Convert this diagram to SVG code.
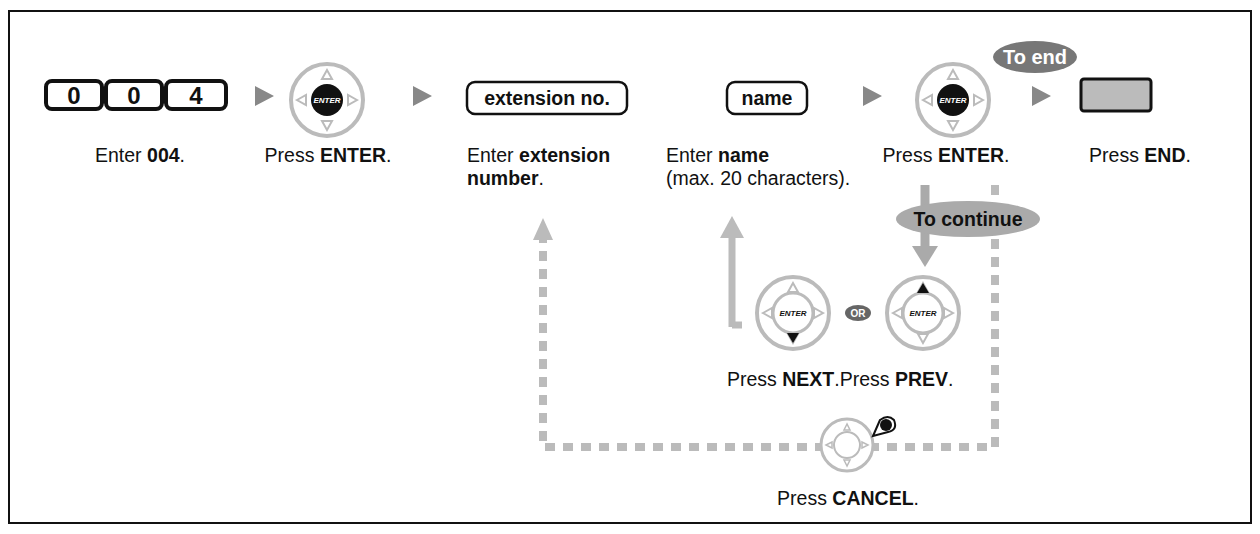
<svg xmlns="http://www.w3.org/2000/svg" width="1260" height="534" viewBox="0 0 1260 534">
<style>
text{font-family:"Liberation Sans",Arial,sans-serif;fill:#111}
.l{font-size:19.5px}
.b{font-weight:bold}
.key{fill:#fff;stroke:#111;stroke-width:4}
.kt{font-size:24px;font-weight:bold;text-anchor:middle}
.tri{fill:#888}
.ring{fill:#fff;stroke:#bbb;stroke-width:4}
.sm{fill:#fff;stroke:#bbb;stroke-width:2}
.en{font-size:8px;font-style:italic;font-weight:bold;text-anchor:middle}
.dash{fill:none;stroke:#bbb;stroke-width:8;stroke-dasharray:10 8}
</style>
<defs>
<g id="dial">
<circle r="36" class="ring"/>
<path d="M0,-30 L-5,-21 L5,-21Z M0,30 L-5,21 L5,21Z M-30,0 L-21,-5 L-21,5Z M30,0 L21,-5 L21,5Z" class="sm"/>
</g>
</defs>
<rect x="9" y="11" width="1242" height="512" fill="#fff" stroke="#111" stroke-width="2"/>
<g id="keys">
<rect x="46" y="81" width="56" height="28" rx="6" class="key"/>
<rect x="106" y="81" width="56" height="28" rx="6" class="key"/>
<rect x="166" y="81" width="60" height="28" rx="6" class="key"/>
<text x="74" y="104" class="kt">0</text><text x="134" y="104" class="kt">0</text><text x="196" y="104" class="kt">4</text>
<text x="140" y="162" class="l" text-anchor="middle">Enter <tspan class="b">004</tspan>.</text>
</g>
<g id="connectors">
<path class="tri" d="M255,86 L274,96 L255,106Z M413,86 L432,96 L413,106Z M609,86 L628,96 L609,106Z M863,86 L882,96 L863,106Z M1032,86 L1051,96 L1032,106Z"/>
<path class="dash" d="M995,185 V447 H543 V240"/>
<path d="M543,218 L533,240 L553,240Z" fill="#bbb"/>
<path d="M732,327 V236 M732,325 H742" fill="none" stroke="#bbb" stroke-width="7"/>
<path d="M732,216 L720,238 L744,238Z" fill="#bbb"/>
<path d="M925,185 V248" stroke="#aaa" stroke-width="9"/>
<path d="M925,267 L912,246 L938,246Z" fill="#aaa"/>
</g>
<g id="enter1">
<use href="#dial" x="327" y="100"/>
<circle cx="327" cy="100" r="16" fill="#111"/>
<text x="327" y="103" class="en" style="fill:#fff">ENTER</text>
<text x="328" y="162" class="l" text-anchor="middle">Press <tspan class="b">ENTER</tspan>.</text>
</g>
<g id="ext">
<rect x="467" y="82" width="160" height="32" rx="8" fill="#fff" stroke="#111" stroke-width="2.5"/>
<text x="547" y="105" class="l b" text-anchor="middle">extension no.</text>
<text x="467" y="162" class="l">Enter <tspan class="b">extension</tspan></text>
<text x="467" y="185" class="l"><tspan class="b">number</tspan>.</text>
</g>
<g id="name">
<rect x="727" y="82" width="80" height="32" rx="8" fill="#fff" stroke="#111" stroke-width="2.5"/>
<text x="767" y="105" class="l b" text-anchor="middle">name</text>
<text x="666" y="162" class="l">Enter <tspan class="b">name</tspan></text>
<text x="666" y="185" class="l">(max. 20 characters).</text>
</g>
<g id="enter2">
<use href="#dial" x="953" y="100"/>
<circle cx="953" cy="100" r="16" fill="#111"/>
<text x="953" y="103" class="en" style="fill:#fff">ENTER</text>
<text x="946" y="162" class="l" text-anchor="middle">Press <tspan class="b">ENTER</tspan>.</text>
</g>
<g id="toend">
<ellipse cx="1035" cy="57" rx="42" ry="16" fill="#777"/>
<text x="1035" y="64" class="b" text-anchor="middle" style="fill:#fff;font-size:20px">To end</text>
</g>
<g id="end">
<rect x="1081" y="79" width="70" height="32" rx="3" fill="#bbb" stroke="#111" stroke-width="3"/>
<text x="1140" y="162" class="l" text-anchor="middle">Press <tspan class="b">END</tspan>.</text>
</g>
<g id="tocontinue">
<ellipse cx="968" cy="219" rx="72" ry="18" fill="#aaa"/>
<text x="968" y="226" class="l b" text-anchor="middle">To continue</text>
</g>
<g id="next">
<use href="#dial" x="793" y="313"/>
<circle cx="793" cy="313" r="20" class="ring" style="stroke-width:3"/>
<text x="793" y="316" class="en">ENTER</text>
<path d="M793,343 L787,333 L799,333Z" fill="#111"/>
</g>
<g id="or">
<ellipse cx="858" cy="313" rx="13" ry="8" fill="#666"/>
<text x="858" y="317" text-anchor="middle" style="fill:#fff;font-size:10px;font-weight:bold">OR</text>
</g>
<g id="prev">
<use href="#dial" x="923" y="313"/>
<circle cx="923" cy="313" r="20" class="ring" style="stroke-width:3"/>
<text x="923" y="316" class="en">ENTER</text>
<path d="M923,283 L917,293 L929,293Z" fill="#111"/>
</g>
<text x="727" y="386" class="l">Press <tspan class="b">NEXT</tspan>.Press <tspan class="b">PREV</tspan>.</text>
<g id="cancel">
<circle cx="847" cy="445" r="26" class="ring" style="stroke-width:3"/>
<circle cx="847" cy="445" r="13" class="ring" style="stroke-width:2"/>
<path d="M847,424 L844,430 L850,430Z M847,466 L844,460 L850,460Z M826,445 L832,442 L832,448Z M868,445 L862,442 L862,448Z" class="sm" style="stroke-width:1.5"/>
<path d="M873,436 L880,420 Q888,414 894,420 Q898,430 888,432Z" fill="#fff" stroke="#111" stroke-width="2"/>
<circle cx="886" cy="425" r="6" fill="#111"/>
<text x="848" y="505" class="l" text-anchor="middle">Press <tspan class="b">CANCEL</tspan>.</text>
</g>
</svg>
